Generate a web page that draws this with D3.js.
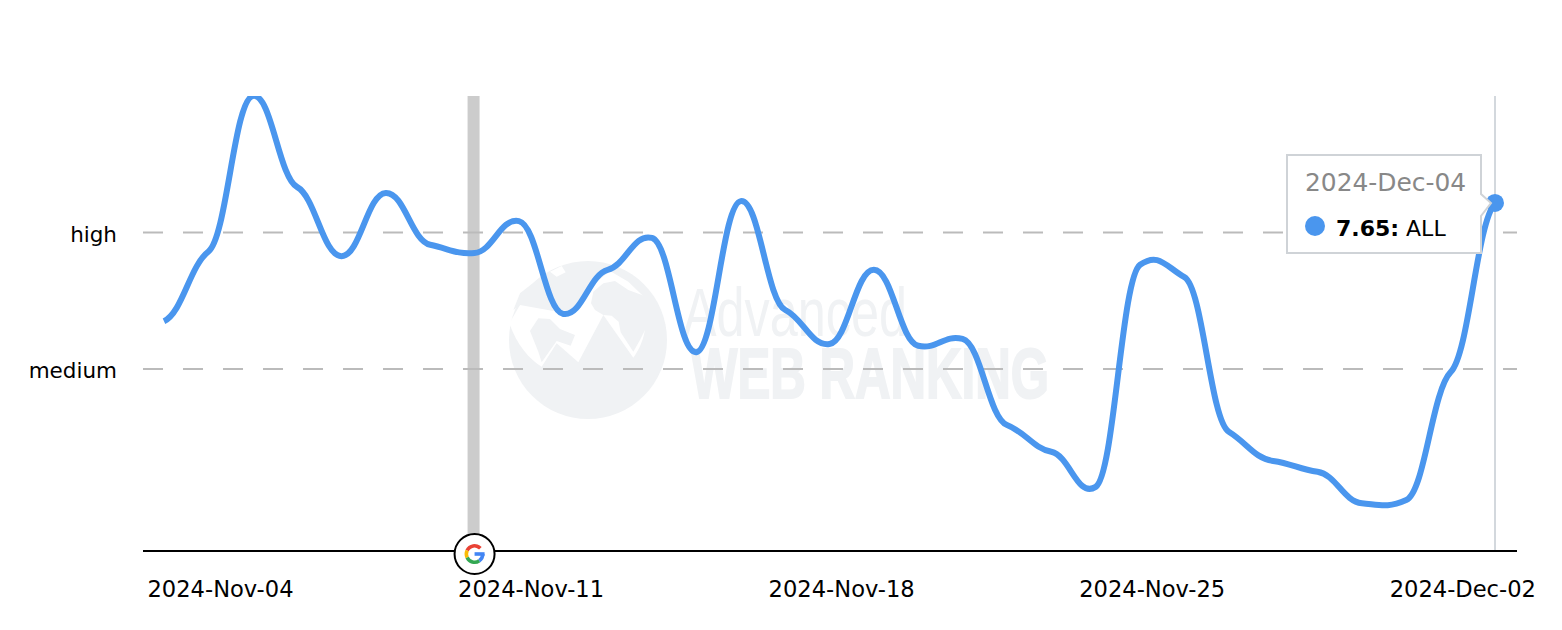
<!DOCTYPE html>
<html>
<head>
<meta charset="utf-8">
<script src="https://cdn.jsdelivr.net/npm/d3@7"></script>
<style>
  html, body { margin: 0; padding: 0; background: #fff; }
  text { font-family: "DejaVu Sans", sans-serif; }
</style>
</head>
<body>
<div id="chart"></div>
<script>
// daily values, first day is 2024-Nov-04
const startDate = "2024-11-04";
const values = [5.05, 6.58, 10.0, 8.0, 6.48, 7.87, 6.73, 6.55, 7.25, 5.21, 6.18, 6.88, 4.37, 7.69, 5.30, 4.55,
    6.18, 4.51, 4.66, 2.77, 2.18, 1.41, 6.29, 6.02, 2.62, 1.98, 1.74, 1.05, 1.12, 3.93, 7.65];
const tickDates = ["2024-11-04", "2024-11-11", "2024-11-18", "2024-11-25", "2024-12-02"];
const levelValues = [4, 7];
const levelNames = ["medium", "high"];
const eventDate = "2024-11-11";
const tooltipDate = "2024-Dec-04";
const seriesName = "ALL";

const parseDate = d3.timeParse("%Y-%m-%d");
const width = 1562, height = 630;
const blue = "#4a96ee";
const markGrey = "#f0f2f4";

const data = values.map((v, i) => ({date: d3.timeDay.offset(parseDate(startDate), i), value: v}));

// spline with long, nearly flat handles at every point, d3's own curves come out too angular here
function softSpline(context) {
    let pts = [];
    const handle = 0.42, slopeScale = 0.3;
    return {
        lineStart() { pts = []; },
        lineEnd() {
            const n = pts.length;
            const slope = i => {
                const a = pts[Math.max(i - 1, 0)], b = pts[Math.min(i + 1, n - 1)];
                return slopeScale * (b[1] - a[1]) / (b[0] - a[0]);
            };
            context.moveTo(pts[0][0], pts[0][1]);
            for (let i = 1; i < n; i++) {
                const p0 = pts[i - 1], p1 = pts[i];
                const h = handle * (p1[0] - p0[0]);
                context.bezierCurveTo(p0[0] + h, p0[1] + slope(i - 1) * h, p1[0] - h, p1[1] - slope(i) * h, p1[0], p1[1]);
            }
        },
        point(px, py) { pts.push([px, py]); }
    };
}

const svg = d3.select("#chart").append("svg")
    .attr("width", width)
    .attr("height", height)
    .style("display", "block");

const x = d3.scaleTime()
    .domain(d3.extent(data, d => d.date))
    .range([164, 1495]);

const y = d3.scaleLinear()
    .domain([0, 10])
    .range([551, 96]);

svg.append("defs").append("clipPath").attr("id", "plot")
    .append("rect").attr("x", 143).attr("y", 96).attr("width", 1374).attr("height", 455);

const mark = svg.append("g");
mark.append("circle").attr("cx", 588).attr("cy", 340).attr("r", 79).attr("fill", markGrey);

const globe = mark.append("g").attr("transform", "translate(500,255) scale(0.3333)");
globe.append("path").attr("fill", "#fff")
    .attr("d", "M28,205 C50,270 90,315 125,335 L170,265 L235,322 L310,180 L400,308 C420,280 432,250 436,215 L432,125 L385,80 L330,48 L285,85 L255,135 L225,165 L160,168 L60,150 Z");
globe.append("path").attr("fill", markGrey)
    .attr("d", "M310,180 L285,165 L273,145 L280,110 L310,85 L345,78 L385,105 L440,125 L440,215 L420,255 L400,290 L362,232 L356,200 L335,182 Z");
globe.append("path").attr("fill", markGrey)
    .attr("d", "M90,228 L115,190 L150,192 L180,222 L225,240 L212,272 L170,258 L125,322 L115,290 Z");
globe.append("path").attr("fill", markGrey)
    .attr("d", "M60,150 L100,118 L150,90 L130,60 L60,115 L40,165 Z");
globe.append("path").attr("fill", "#fff")
    .attr("d", "M150,50 L185,33 L197,52 L170,65 Z");

mark.append("text").attr("x", 683).attr("y", 336)
    .attr("textLength", 224).attr("lengthAdjust", "spacingAndGlyphs")
    .style("font-family", "'Liberation Sans Narrow', 'Liberation Sans', sans-serif")
    .style("font-size", "68px").attr("fill", markGrey)
    .text("Advanced");
mark.append("text").attr("x", 691).attr("y", 398)
    .attr("textLength", 358).attr("lengthAdjust", "spacingAndGlyphs")
    .style("font-family", "'Liberation Sans Narrow', 'Liberation Sans', sans-serif")
    .style("font-size", "70px").style("font-weight", "bold")
    .attr("fill", markGrey).attr("stroke", markGrey).attr("stroke-width", 2)
    .text("WEB RANKING");

// event band
svg.append("rect")
    .attr("x", x(parseDate(eventDate)) - 7)
    .attr("y", y(10))
    .attr("width", 12)
    .attr("height", y(0) - y(10))
    .attr("fill", "#cccccc");

// level grid lines
svg.selectAll("line.level")
    .data(levelValues)
    .enter()
    .append("line")
    .attr("class", "level")
    .attr("x1", 143)
    .attr("x2", 1517)
    .attr("y1", d => y(d))
    .attr("y2", d => y(d))
    .attr("stroke", "#bbbbbb")
    .attr("stroke-width", 2)
    .attr("stroke-dasharray", "20,20");

// crosshair at the last point
const last = data[data.length - 1];
svg.append("line")
    .attr("x1", x(last.date)).attr("x2", x(last.date))
    .attr("y1", y(10)).attr("y2", y(0))
    .attr("stroke", "#d3d8dd")
    .attr("stroke-width", 2);

// axes
const xAxis = d3.axisBottom(x)
    .tickValues(tickDates.map(parseDate))
    .tickFormat(d3.timeFormat("%Y-%b-%d"))
    .tickSize(0);

const xAxisG = svg.append("g")
    .attr("transform", "translate(0," + y(0) + ")")
    .call(xAxis);
xAxisG.select(".domain").remove();
xAxisG.selectAll("text")
    .attr("dx", 56)
    .attr("y", 30)
    .attr("dy", "0.71em")
    .style("font-size", "22.6px")
    .attr("fill", "#000");

const yAxis = d3.axisLeft(y)
    .tickValues(levelValues)
    .tickFormat(d => levelNames[levelValues.indexOf(d)])
    .tickSize(0);

const yAxisG = svg.append("g")
    .attr("transform", "translate(117,2)")
    .call(yAxis);
yAxisG.select(".domain").remove();
yAxisG.selectAll("text")
    .attr("x", 0)
    .style("font-size", "21.5px")
    .attr("fill", "#000");

svg.append("line")
    .attr("x1", 143).attr("x2", 1517)
    .attr("y1", y(0)).attr("y2", y(0))
    .attr("stroke", "#000")
    .attr("stroke-width", 2);

// series line
const line = d3.line()
    .x(d => x(d.date))
    .y(d => y(d.value))
    .curve(softSpline);

svg.append("path")
    .datum(data)
    .attr("clip-path", "url(#plot)")
    .attr("fill", "none")
    .attr("stroke", blue)
    .attr("stroke-width", 6)
    .attr("d", line);

svg.append("circle")
    .attr("cx", x(last.date))
    .attr("cy", y(last.value))
    .attr("r", 9)
    .attr("fill", blue);

// google marker
const gx = x(parseDate(eventDate)), gy = y(0) + 3;
svg.append("circle").attr("cx", gx).attr("cy", gy).attr("r", 20)
    .attr("fill", "#fff").attr("stroke", "#000").attr("stroke-width", 2);
const arc = d3.arc().innerRadius(6.4).outerRadius(10);
const deg = Math.PI / 180;
const gParts = [
    {start: -65, end: 45, color: "#e94235"},
    {start: -115, end: -65, color: "#fabb05"},
    {start: -215, end: -115, color: "#34a853"},
    {start: -270, end: -215, color: "#4285f4"}
];
const gLogo = svg.append("g").attr("transform", "translate(" + gx + "," + gy + ")");
gLogo.selectAll("path")
    .data(gParts)
    .enter()
    .append("path")
    .attr("d", d => arc({startAngle: d.start * deg, endAngle: d.end * deg}))
    .attr("fill", d => d.color);
gLogo.append("rect").attr("x", 0).attr("y", -1.8).attr("width", 10).attr("height", 3.6).attr("fill", "#4285f4");

// tooltip
const tip = svg.append("g");
tip.append("path")
    .attr("d", "M1287,155 H1481 V194 L1491,203 L1481,216 V253 H1287 Z")
    .attr("fill", "#fff")
    .attr("stroke", "#cfd3d7")
    .attr("stroke-width", 2);
tip.append("text")
    .attr("x", 1305).attr("y", 191)
    .style("font-size", "24.9px")
    .attr("fill", "#888888")
    .text(tooltipDate);
tip.append("circle").attr("cx", 1315).attr("cy", 226).attr("r", 10).attr("fill", blue);
const tipValue = tip.append("text")
    .attr("x", 1336).attr("y", 236)
    .style("font-size", "22px")
    .attr("fill", "#000");
tipValue.append("tspan").style("font-weight", "bold").text(last.value.toFixed(2) + ":");
tipValue.append("tspan").text(" " + seriesName);
</script>
</body>
</html>
